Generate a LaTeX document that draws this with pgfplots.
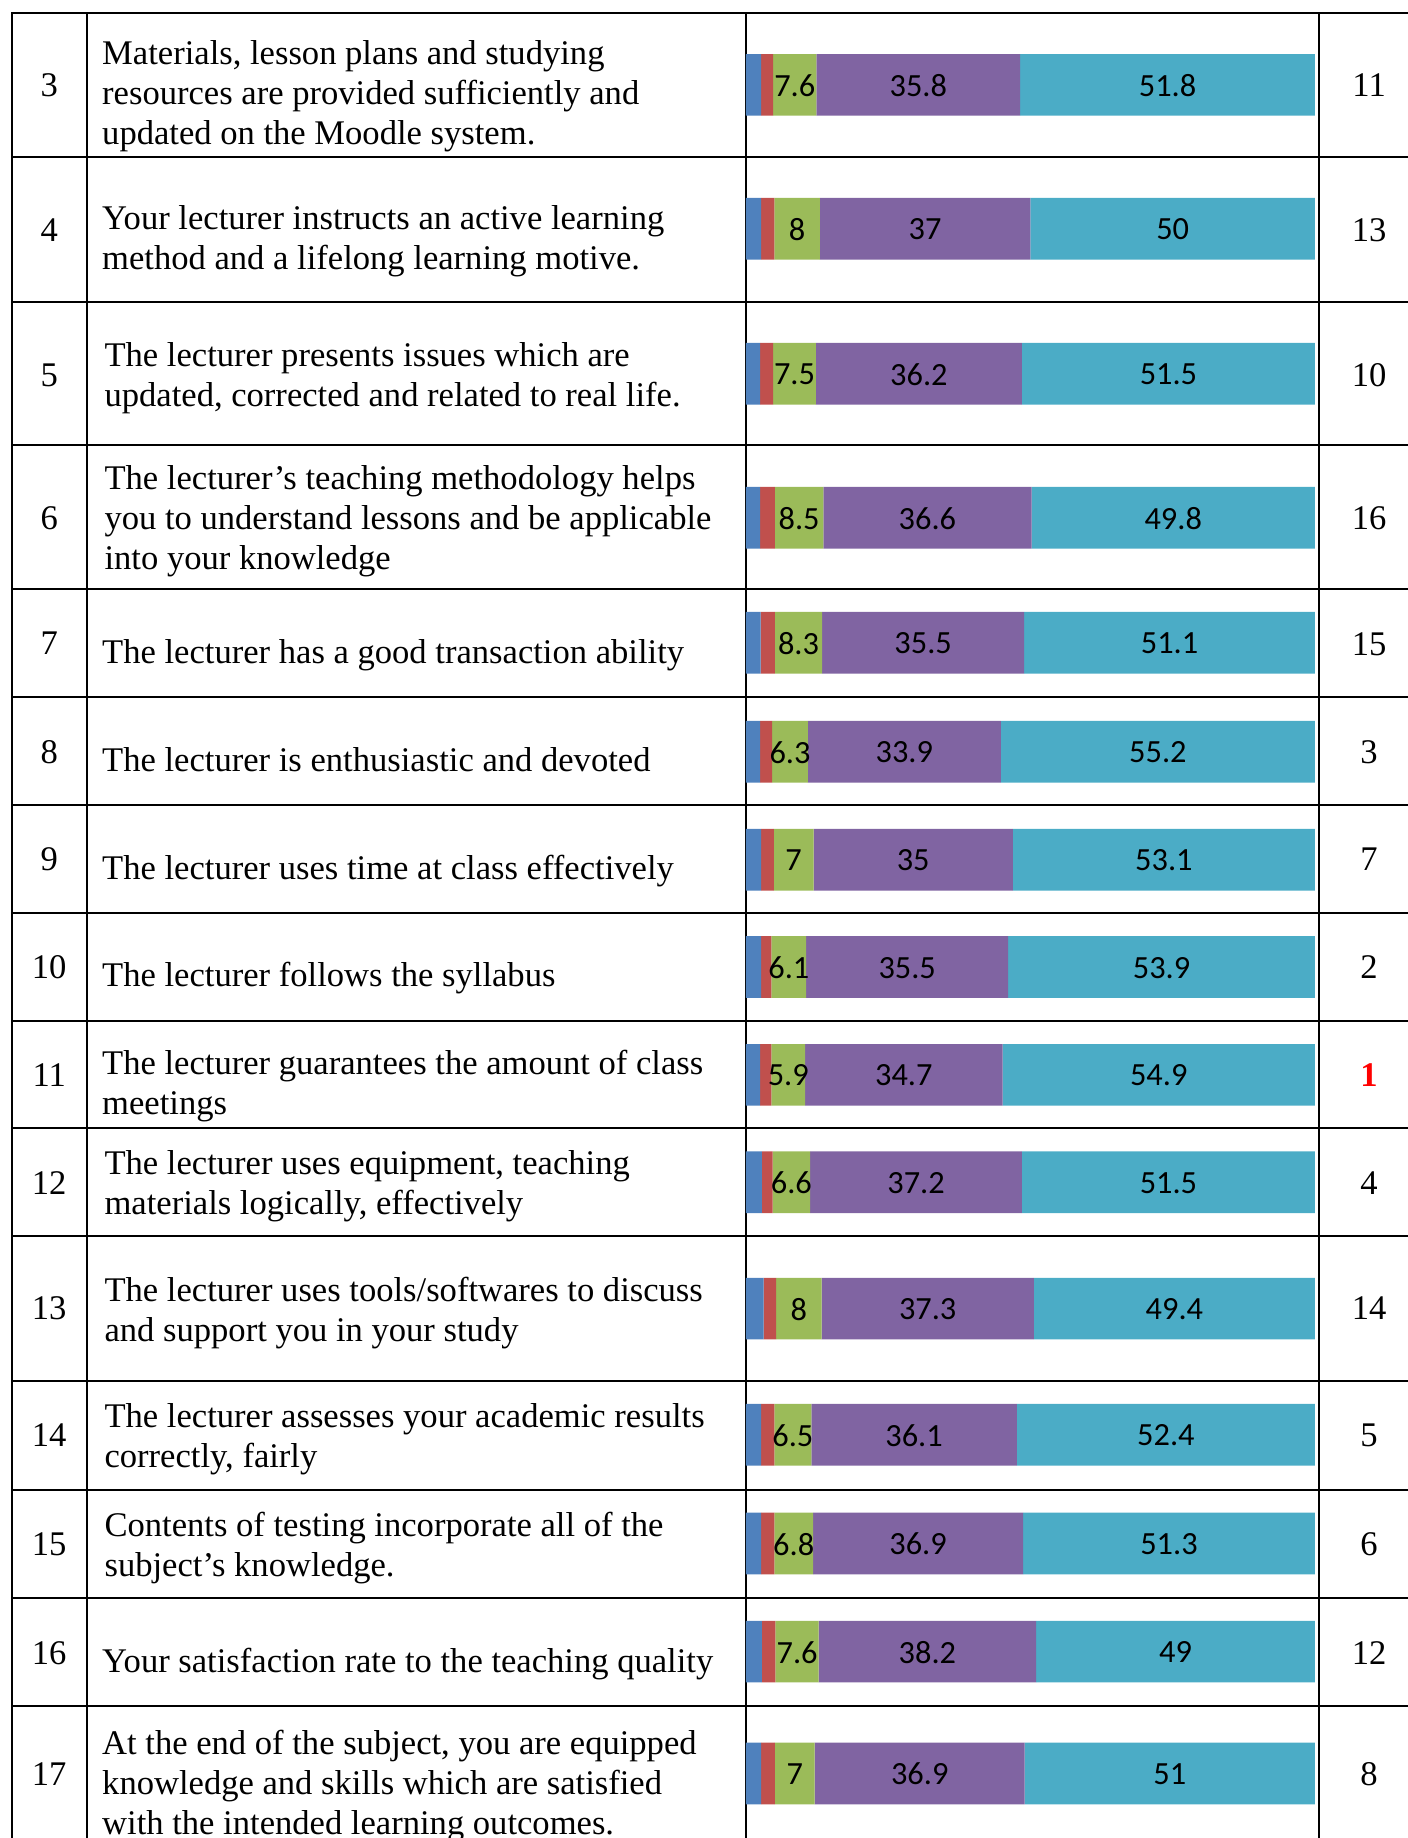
\documentclass[border=0pt]{standalone}
\usepackage{pgfplots}
\pgfplotsset{compat=1.18}
\usepackage{fontspec}
\setmainfont{Liberation Serif}
\newfontfamily\calfont{Carlito}
\definecolor{cA}{HTML}{4F81BD}
\definecolor{cB}{HTML}{C0504D}
\definecolor{cC}{HTML}{9BBB59}
\definecolor{cD}{HTML}{8064A2}
\definecolor{cE}{HTML}{4BACC6}
\newcommand{\tfont}{\fontsize{29.5}{34}\selectfont}
\newcommand{\tl}[3]{\node[anchor=base west, inner sep=0pt, font=\tfont] at (#1,-#2-2) {#3};}
\newcommand{\nm}[3]{\node[anchor=base, inner sep=0pt, font=\tfont] at (#1,-#2) {#3};}
\begin{document}
\begin{tikzpicture}[x=1pt,y=1pt]
\useasboundingbox (0,0) rectangle (1201,-1568);
\clip (0,0) rectangle (1201,-1568);
% table rules
\draw[line width=1.7pt] (10.5,-11.5) -- (1201,-11.5);
\foreach \y in {133.6,257.5,380,502.4,594.2,687,778.5,871,962,1054,1177.7,1271,1363.6,1455}
  \draw[line width=1.7pt] (10.5,-\y) -- (1201,-\y);
\draw[line width=1.7pt] (10.5,-10.6) -- (10.5,-1568);
\draw[line width=1.5pt] (73.9,-11.5) -- (73.9,-1568);
\draw[line width=1.2pt] (636.3,-11.5) -- (636.3,-1568);
\draw[line width=1.5pt] (1125,-11.5) -- (1125,-1568);

\begin{axis}[at={(636.3pt,0pt)}, anchor=north west,
  x=4.855pt, y=1pt, xmin=0, xmax=100, ymin=-1568, ymax=0,
  hide axis, clip=false, xbar stacked, bar width=52.6,
  every node near coord/.append style={anchor=center, inner sep=0pt, yshift=-0.5pt,
     font=\calfont\fontsize{27.6}{27.6}\selectfont, text=black}]
\addplot[fill=cA, draw=none] coordinates {
 (2.7,-72.4) (2.7,-195.2) (2.5,-318.9) (2.5,-441.7) (2.6,-548.3)
 (2.5,-641.3) (2.7,-733.4) (2.7,-825) (2.5,-917) (2.8,-1008.5)
 (3.1,-1116.4) (2.7,-1224) (2.7,-1316.8) (2.8,-1409) (2.7,-1513)};
\addplot[fill=cB, draw=none] coordinates {
 (2.1,-72.4) (2.3,-195.2) (2.3,-318.9) (2.6,-441.7) (2.5,-548.3)
 (2.1,-641.3) (2.2,-733.4) (1.8,-825) (2.0,-917) (1.9,-1008.5)
 (2.2,-1116.4) (2.3,-1224) (2.3,-1316.8) (2.4,-1409) (2.4,-1513)};
\addplot[fill=cC, draw=none, point meta=explicit symbolic,
  nodes near coords={\pgfplotspointmeta}] coordinates {
 (7.6,-72.4)[7.6] (8,-195.2)[8] (7.5,-318.9)[7.5] (8.5,-441.7)[8.5] (8.3,-548.3)[8.3]
 (6.3,-641.3)[6.3] (7,-733.4)[7] (6.1,-825)[6.1] (5.9,-917)[5.9] (6.6,-1008.5)[6.6]
 (8,-1116.4)[8] (6.5,-1224)[6.5] (6.8,-1316.8)[6.8] (7.6,-1409)[7.6] (7,-1513)[7]};
\addplot[fill=cD, draw=none, point meta=explicit symbolic,
  nodes near coords={\pgfplotspointmeta}] coordinates {
 (35.8,-72.4)[35.8] (37,-195.2)[37] (36.2,-318.9)[36.2] (36.6,-441.7)[36.6] (35.5,-548.3)[35.5]
 (33.9,-641.3)[33.9] (35,-733.4)[35] (35.5,-825)[35.5] (34.7,-917)[34.7] (37.2,-1008.5)[37.2]
 (37.3,-1116.4)[37.3] (36.1,-1224)[36.1] (36.9,-1316.8)[36.9] (38.2,-1409)[38.2] (36.9,-1513)[36.9]};
\addplot[fill=cE, draw=none, point meta=explicit symbolic,
  nodes near coords={\pgfplotspointmeta}] coordinates {
 (51.8,-72.4)[51.8] (50,-195.2)[50] (51.5,-318.9)[51.5] (49.8,-441.7)[49.8] (51.1,-548.3)[51.1]
 (55.2,-641.3)[55.2] (53.1,-733.4)[53.1] (53.9,-825)[53.9] (54.9,-917)[54.9] (51.5,-1008.5)[51.5]
 (49.4,-1116.4)[49.4] (52.4,-1224)[52.4] (51.3,-1316.8)[51.3] (49,-1409)[49] (51,-1513)[51]};
\end{axis}

% left numbers
\nm{42}{82}{3} \nm{42}{206}{4} \nm{42}{330}{5} \nm{42}{452}{6} \nm{42}{558}{7}
\nm{42}{651}{8} \nm{42}{743}{9} \nm{42}{835}{10} \nm{42}{927}{11} \nm{42}{1019}{12}
\nm{42}{1126}{13} \nm{42}{1234}{14} \nm{42}{1327}{15} \nm{42}{1420}{16} \nm{42}{1523}{17}
% ranks
\nm{1168}{82}{11} \nm{1168}{206}{13} \nm{1168}{330}{10} \nm{1168}{452}{16} \nm{1168}{559}{15}
\nm{1168}{651}{3} \nm{1168}{743}{7} \nm{1168}{835}{2} \nm{1168}{927}{\textcolor[HTML]{FF0000}{\bfseries 1}} \nm{1168}{1019}{4}
\nm{1168}{1126}{14} \nm{1168}{1234}{5} \nm{1168}{1327}{6} \nm{1168}{1420}{12} \nm{1168}{1523}{8}
% descriptions
\tl{87}{53}{Materials, lesson plans and studying}
\tl{87}{87}{resources are provided sufficiently and}
\tl{87}{121}{updated on the Moodle system.}
\tl{87}{194}{Your lecturer instructs an active learning}
\tl{87}{228}{method and a lifelong learning motive.}
\tl{89}{311}{The lecturer presents issues which are}
\tl{89}{345}{updated, corrected and related to real life.}
\tl{89}{416}{The lecturer’s teaching methodology helps}
\tl{89}{450}{you to understand lessons and be applicable}
\tl{89}{484}{into your knowledge}
\tl{87}{564}{The lecturer has a good transaction ability}
\tl{87}{656}{The lecturer is enthusiastic and devoted}
\tl{87}{748}{The lecturer uses time at class effectively}
\tl{87}{840}{The lecturer follows the syllabus}
\tl{87}{915}{The lecturer guarantees the amount of class}
\tl{87}{949}{meetings}
\tl{89}{1000}{The lecturer uses equipment, teaching}
\tl{89}{1034}{materials logically, effectively}
\tl{89}{1108}{The lecturer uses tools/softwares to discuss}
\tl{89}{1142}{and support you in your study}
\tl{89}{1216}{The lecturer assesses your academic results}
\tl{89}{1250}{correctly, fairly}
\tl{89}{1309}{Contents of testing incorporate all of the}
\tl{89}{1343}{subject’s knowledge.}
\tl{87}{1425}{Your satisfaction rate to the teaching quality}
\tl{87}{1495}{At the end of the subject, you are equipped}
\tl{87}{1529}{knowledge and skills which are satisfied}
\tl{87}{1563}{with the intended learning outcomes.}
\end{tikzpicture}
\end{document}
